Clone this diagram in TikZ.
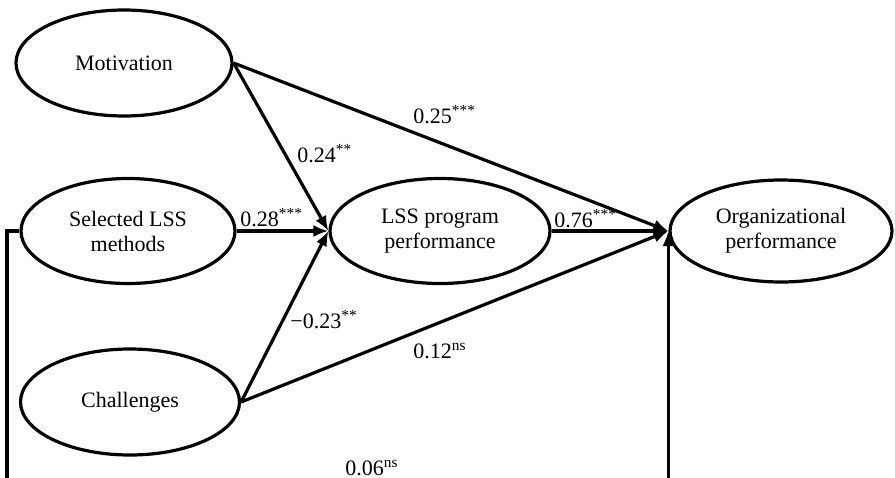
\documentclass[tikz,border=0pt]{standalone}
\usepackage{fontspec}
\setmainfont{Liberation Serif}
\usetikzlibrary{shapes.geometric,arrows.meta}
\begin{document}
\begin{tikzpicture}[x=0.5pt,y=-0.5pt,
  latent/.style={draw,ellipse,line width=1.6pt,inner sep=0pt,align=center,
    font=\fontsize{11}{12.5}\selectfont},
  arr/.style={line width=1.6pt,-{Latex[length=7.5pt,width=6pt]}},
  coef/.style={anchor=base west,inner sep=0pt,font=\fontsize{11}{13}\selectfont}]
\useasboundingbox (0,0) rectangle (895,477);
\node[latent,minimum width=108pt,minimum height=53pt] (mot) at (124,63) {Motivation};
\node[latent,minimum width=107pt,minimum height=52.5pt] (sel) at (128,231) {Selected LSS\\methods};
\node[latent,minimum width=109.5pt,minimum height=53pt] (cha) at (130,402) {Challenges};
\node[latent,minimum width=110pt,minimum height=52.5pt] (lss) at (440,231) {LSS program\\performance};
\node[latent,minimum width=111pt,minimum height=51pt] (org) at (781,231) {Organizational\\performance};
\coordinate (bl) at (7,500);
\draw[arr] (mot.east) -- (lss.west);
\draw[arr] (sel.east) -- (lss.west);
\draw[arr] (cha.east) -- (lss.west);
\draw[arr] (mot.east) -- (org.west);
\draw[arr] (lss.east) -- (org.west);
\draw[arr] (cha.east) -- (org.west);
\draw[arr] (sel.west) -| (bl) -- (org.west |- bl) -- (org.west);
\node[coef] (c1) at (413,123) {0.25\textsuperscript{***}};
\node[coef] (c2) at (297,162) {0.24\textsuperscript{**}};
\node[coef] (c3) at (240,226) {0.28\textsuperscript{***}};
\node[coef] (c4) at (554,227) {0.76\textsuperscript{***}};
\node[coef] (c5) at (290,328) {−0.23\textsuperscript{**}};
\node[coef] (c6) at (413,358) {0.12\textsuperscript{ns}};
\node[coef] (c7) at (345,475) {0.06\textsuperscript{ns}};
\end{tikzpicture}
\end{document}
